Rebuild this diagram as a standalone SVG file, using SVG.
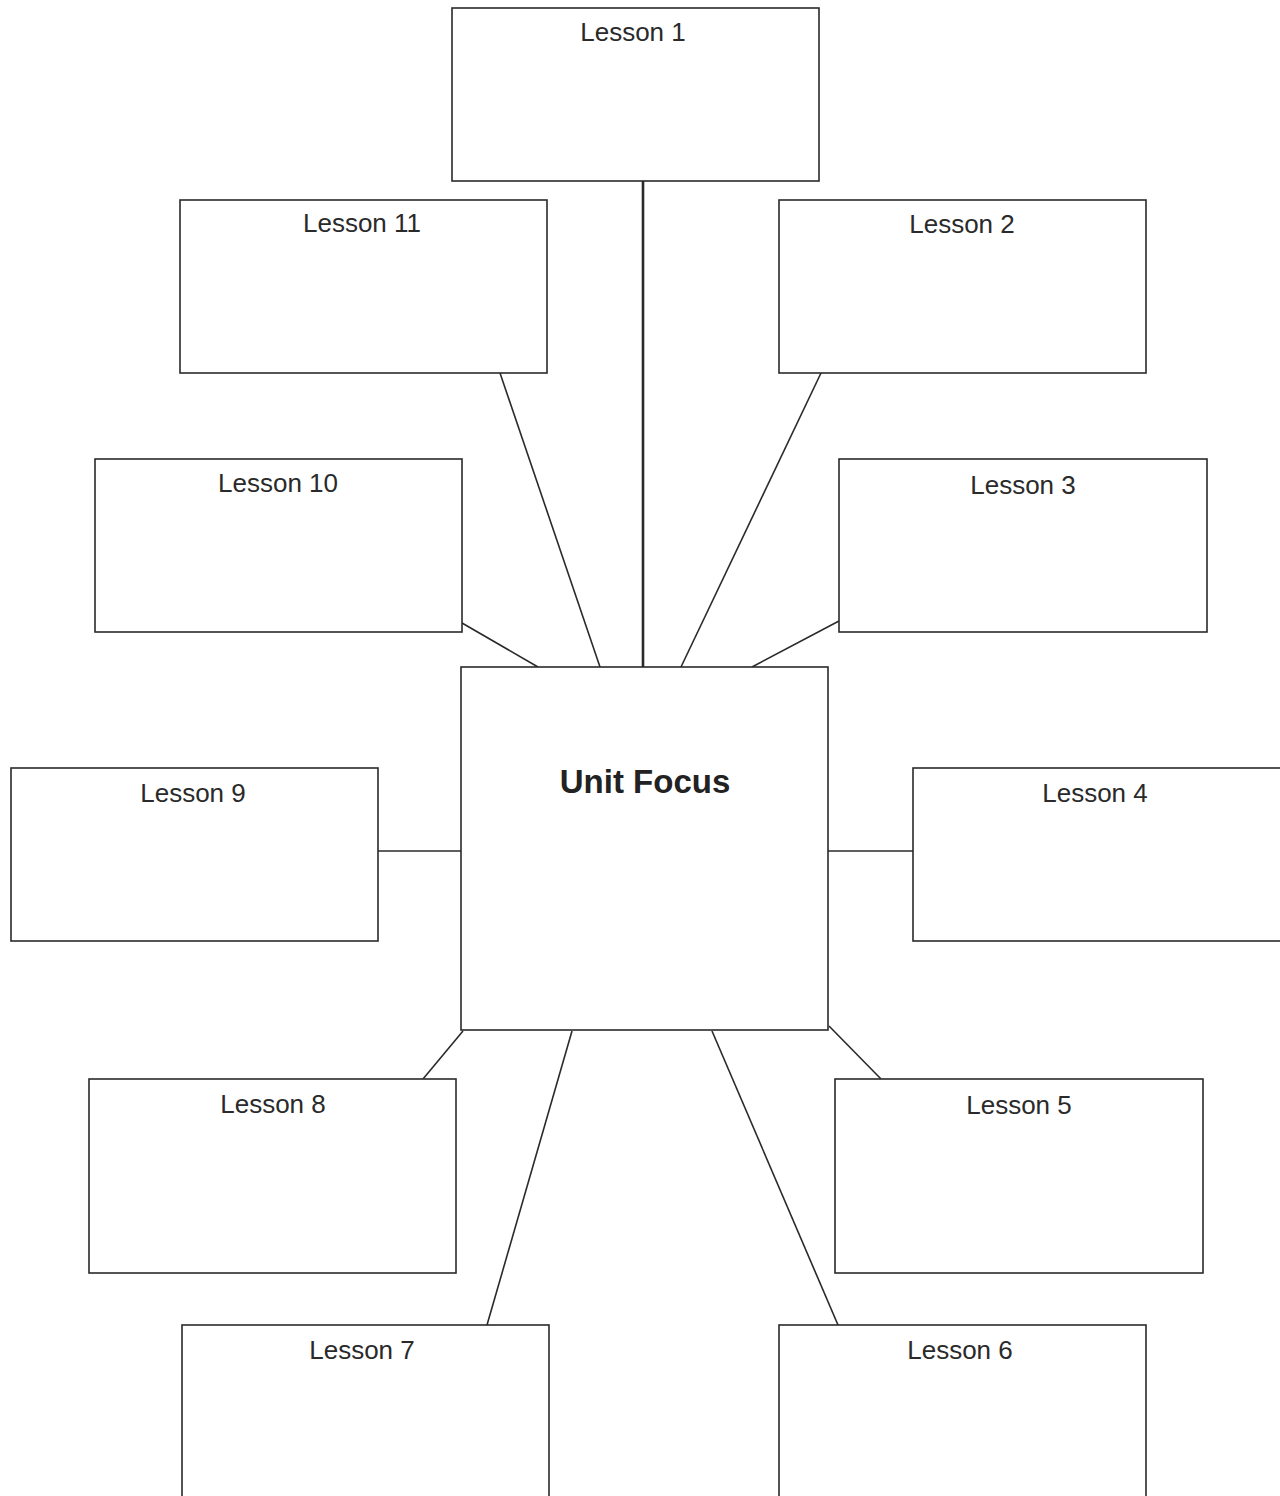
<svg xmlns="http://www.w3.org/2000/svg" width="1280" height="1496" viewBox="0 0 1280 1496">
<style>
.box{fill:#fff;stroke:#2a2a2a;stroke-width:1.6}
.lbl{font-family:"Liberation Sans",Arial,sans-serif;font-size:26px;fill:#2a2a2a;text-anchor:middle}
.title{font-family:"Liberation Sans",Arial,sans-serif;font-size:33px;font-weight:bold;fill:#222;text-anchor:middle}
.c{stroke:#2a2a2a;stroke-width:1.6;fill:none}
.thick{stroke-width:2.6}
</style>
<rect width="1280" height="1496" fill="#fff"/>
<g id="connectors">
<line class="c thick" x1="643" y1="181" x2="643" y2="667"/>
<line class="c" x1="500" y1="373" x2="600" y2="667"/>
<line class="c" x1="821" y1="373" x2="681" y2="667"/>
<line class="c" x1="462" y1="623" x2="538" y2="667"/>
<line class="c" x1="839" y1="621" x2="752" y2="667"/>
<line class="c" x1="378" y1="851" x2="461" y2="851"/>
<line class="c" x1="828" y1="851" x2="913" y2="851"/>
<line class="c" x1="463" y1="1031" x2="423" y2="1079"/>
<line class="c" x1="572" y1="1031" x2="487" y2="1325"/>
<line class="c" x1="712" y1="1031" x2="838" y2="1325"/>
<line class="c" x1="829" y1="1026" x2="881" y2="1079"/>
</g>
<g id="center"><rect class="box" x="461" y="667" width="367" height="363"/><text class="title" x="645" y="793">Unit Focus</text></g>
<g id="lesson1"><rect class="box" x="452" y="8" width="367" height="173"/><text class="lbl" x="633" y="41">Lesson 1</text></g>
<g id="lesson2"><rect class="box" x="779" y="200" width="367" height="173"/><text class="lbl" x="962" y="233">Lesson 2</text></g>
<g id="lesson3"><rect class="box" x="839" y="459" width="368" height="173"/><text class="lbl" x="1023" y="494">Lesson 3</text></g>
<g id="lesson4"><rect class="box" x="913" y="768" width="380" height="173"/><text class="lbl" x="1095" y="802">Lesson 4</text></g>
<g id="lesson5"><rect class="box" x="835" y="1079" width="368" height="194"/><text class="lbl" x="1019" y="1114">Lesson 5</text></g>
<g id="lesson6"><rect class="box" x="779" y="1325" width="367" height="190"/><text class="lbl" x="960" y="1359">Lesson 6</text></g>
<g id="lesson7"><rect class="box" x="182" y="1325" width="367" height="190"/><text class="lbl" x="362" y="1359">Lesson 7</text></g>
<g id="lesson8"><rect class="box" x="89" y="1079" width="367" height="194"/><text class="lbl" x="273" y="1113">Lesson 8</text></g>
<g id="lesson9"><rect class="box" x="11" y="768" width="367" height="173"/><text class="lbl" x="193" y="802">Lesson 9</text></g>
<g id="lesson10"><rect class="box" x="95" y="459" width="367" height="173"/><text class="lbl" x="278" y="492">Lesson 10</text></g>
<g id="lesson11"><rect class="box" x="180" y="200" width="367" height="173"/><text class="lbl" x="362" y="232">Lesson 11</text></g>
</svg>
